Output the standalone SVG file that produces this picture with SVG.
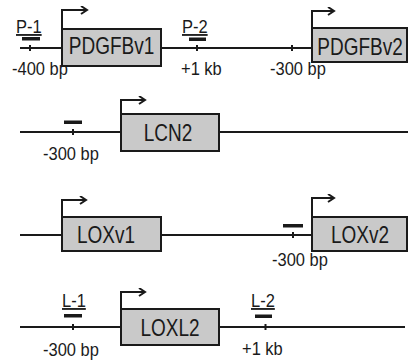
<svg xmlns="http://www.w3.org/2000/svg" width="409" height="362" viewBox="0 0 409 362">
<defs>
<marker id="ah" markerUnits="userSpaceOnUse" markerWidth="10" markerHeight="10" refX="7" refY="4.5" orient="auto" viewBox="0 0 10 10">
<path d="M1,0.5 L7,4.5 L1,8.5" fill="none" stroke="#1a1a1a" stroke-width="2"/>
</marker>
</defs>
<style>
.dna{stroke:#1a1a1a;stroke-width:2;fill:none}
.box{fill:#c9c9c9;stroke:#1a1a1a;stroke-width:2}
.tss{stroke:#1a1a1a;stroke-width:2;fill:none;marker-end:url(#ah)}
.gl{font-family:"Liberation Sans",Arial,sans-serif;font-size:19px;fill:#1a1a1a;text-anchor:middle}
.lb{font-family:"Liberation Sans",Arial,sans-serif;font-size:16.5px;fill:#1a1a1a}
.pr{font-family:"Liberation Sans",Arial,sans-serif;font-size:16.5px;fill:#1a1a1a;text-decoration:underline}
.bar{fill:#1a1a1a}
.tick{fill:#1a1a1a}
</style>
<rect width="409" height="362" fill="#ffffff"/>
<g id="connectors">
<path class="dna" d="M20,48 H312"/>
<path class="dna" d="M20,132 H408"/>
<path class="dna" d="M20,235 H312"/>
<path class="dna" d="M20,327 H405"/>
</g>
<g id="PDGFBv1">
<rect class="box" x="62" y="29" width="99" height="37"/>
<path class="tss" d="M62,29 V10 H87"/>
<text class="gl" transform="translate(111.5,53.5) scale(1,1.22)">PDGFBv1</text>
</g>
<g id="PDGFBv2">
<rect class="box" x="312" y="28" width="95" height="34"/>
<path class="tss" d="M312,28 V11 H334"/>
<text class="gl" transform="translate(360,55) scale(1,1.22)">PDGFBv2</text>
</g>
<g id="LCN2">
<rect class="box" x="121" y="114" width="98" height="37"/>
<path class="tss" d="M121,114 V100 H145"/>
<text class="gl" transform="translate(168,141) scale(1,1.22)">LCN2</text>
</g>
<g id="LOXv1">
<rect class="box" x="62" y="217" width="99" height="34"/>
<path class="tss" d="M62,217 V200 H86"/>
<text class="gl" transform="translate(106,243) scale(1,1.22)">LOXv1</text>
</g>
<g id="LOXv2">
<rect class="box" x="312" y="217" width="95" height="34"/>
<path class="tss" d="M312,217 V198 H334"/>
<text class="gl" transform="translate(360,243) scale(1,1.22)">LOXv2</text>
</g>
<g id="LOXL2">
<rect class="box" x="121" y="309" width="98" height="36"/>
<path class="tss" d="M121,309 V292 H145"/>
<text class="gl" transform="translate(170,336) scale(1,1.22)">LOXL2</text>
</g>
<g id="probe-P1">
<text class="pr" transform="translate(16,33) scale(1,1.1)">P-1</text>
<rect class="bar" x="22" y="37" width="18" height="3.5"/>
<rect class="tick" x="29" y="45" width="2" height="6"/>
<text class="lb" transform="translate(12,75) scale(1,1.1)">-400 bp</text>
</g>
<g id="probe-P2">
<text class="pr" transform="translate(182,33) scale(1,1.1)">P-2</text>
<rect class="bar" x="189" y="37.5" width="17" height="3.5"/>
<rect class="tick" x="196" y="45" width="2" height="6"/>
<text class="lb" transform="translate(181,75) scale(1,1.1)">+1 kb</text>
</g>
<g id="site-PDGFBv2">
<rect class="tick" x="291" y="45" width="2" height="6"/>
<text class="lb" transform="translate(270,75) scale(1,1.1)">-300 bp</text>
</g>
<g id="site-LCN2">
<rect class="bar" x="64" y="120.5" width="18" height="3.5"/>
<rect class="tick" x="72" y="129" width="2" height="6"/>
<text class="lb" transform="translate(43,160) scale(1,1.1)">-300 bp</text>
</g>
<g id="site-LOXv2">
<rect class="bar" x="283" y="224" width="20" height="3.5"/>
<rect class="tick" x="292" y="232" width="2" height="6"/>
<text class="lb" transform="translate(272,266) scale(1,1.1)">-300 bp</text>
</g>
<g id="probe-L1">
<text class="pr" transform="translate(62,307) scale(1,1.1)">L-1</text>
<rect class="bar" x="64" y="314" width="18" height="3.5"/>
<rect class="tick" x="72" y="324" width="2" height="6"/>
<text class="lb" transform="translate(43,356) scale(1,1.1)">-300 bp</text>
</g>
<g id="probe-L2">
<text class="pr" transform="translate(251,307) scale(1,1.1)">L-2</text>
<rect class="bar" x="255" y="314.5" width="17" height="3.5"/>
<rect class="tick" x="264.5" y="324" width="2" height="6"/>
<text class="lb" transform="translate(242,355) scale(1,1.1)">+1 kb</text>
</g>
</svg>
